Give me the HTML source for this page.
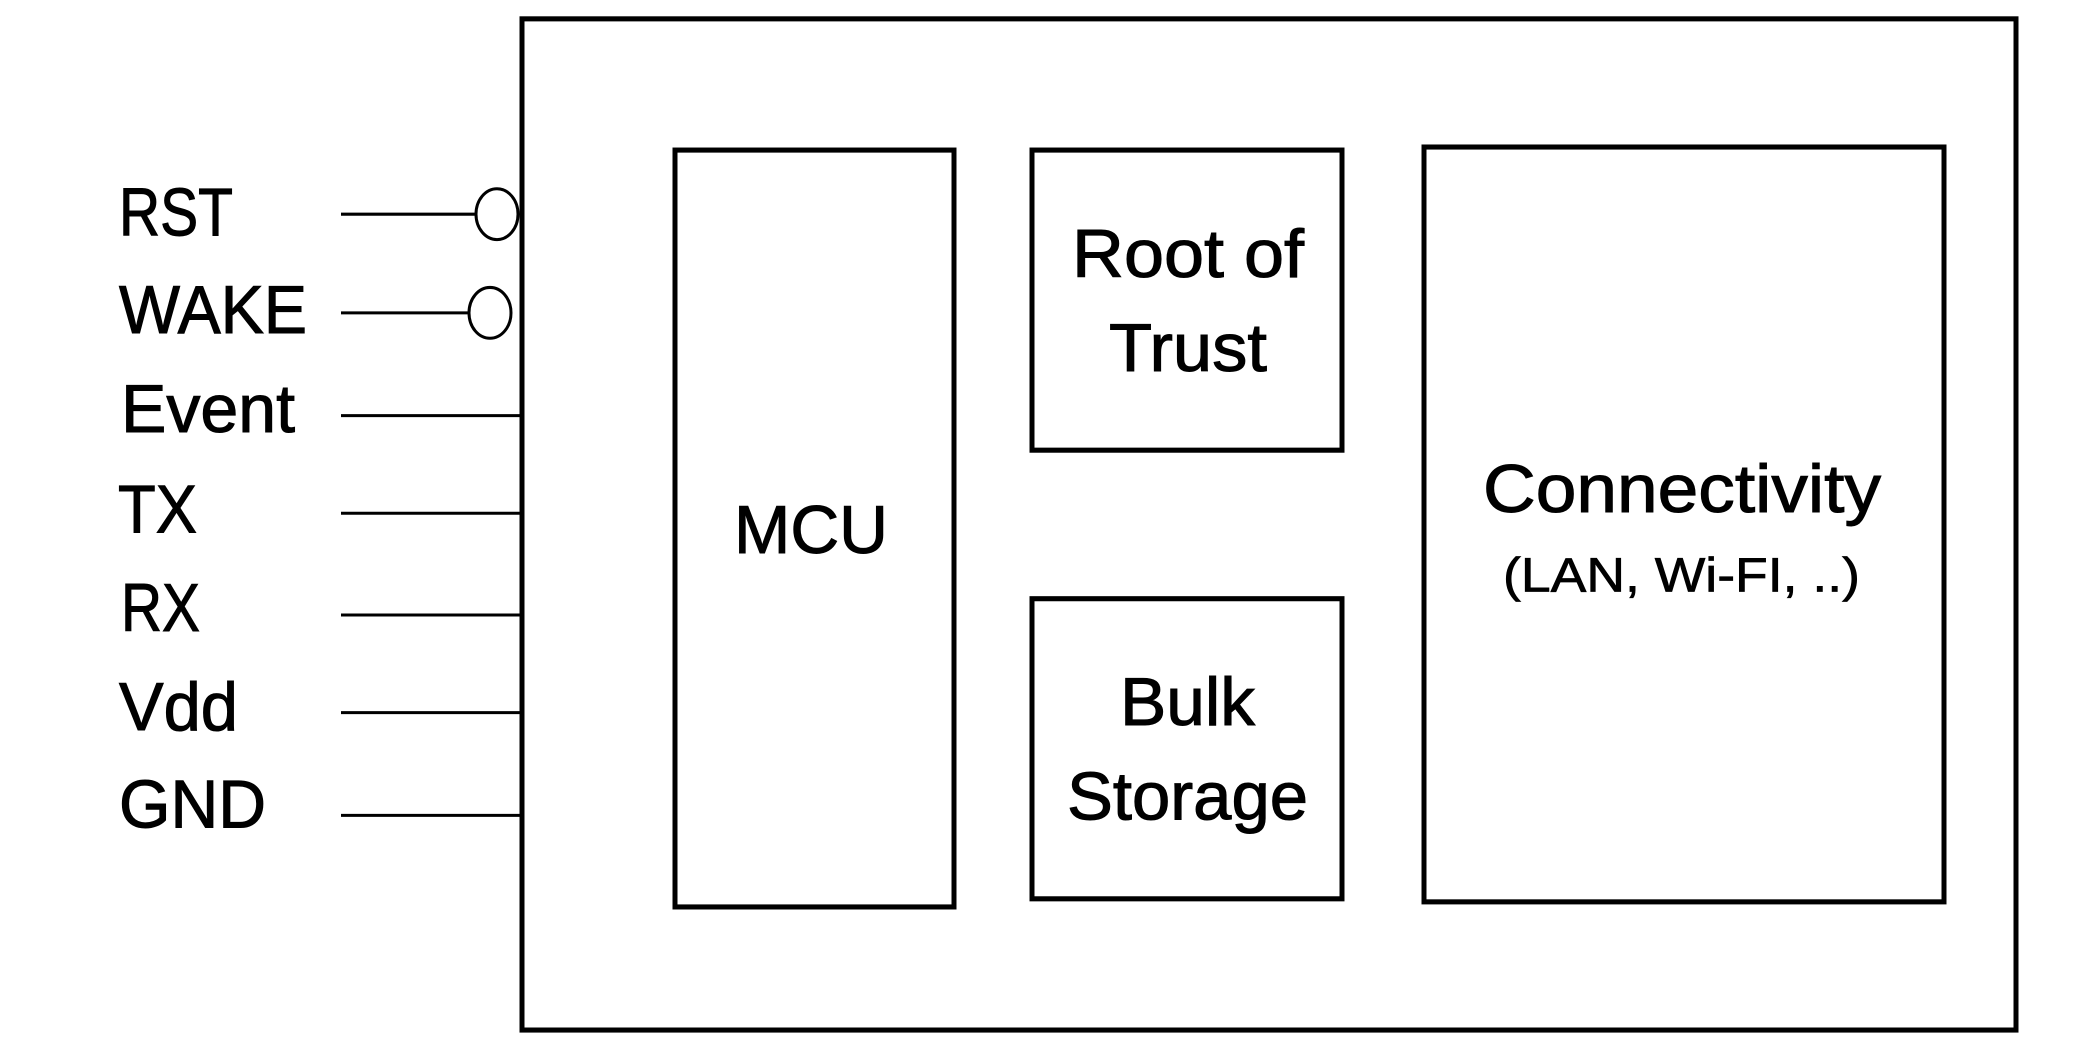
<!DOCTYPE html>
<html><head><meta charset="utf-8"><style>html,body{margin:0;padding:0;background:#fff}svg{display:block}</style></head>
<body>
<svg width="2078" height="1056" viewBox="0 0 2078 1056" xmlns="http://www.w3.org/2000/svg" font-family="Liberation Sans, sans-serif" fill="#000">
<g transform="matrix(1 0 0 1.0173 0 -1.5)">
<g fill="none" stroke="#000" stroke-width="5">
<rect x="522" y="20" width="1494" height="994"/>
<rect x="675" y="149" width="279" height="744"/>
<rect x="1032" y="149" width="310" height="295"/>
<rect x="1032" y="590" width="310" height="295"/>
<rect x="1424" y="146" width="520" height="742"/>
</g>
<g stroke="#000" stroke-width="3">
<line x1="341" y1="212" x2="476" y2="212"/>
<line x1="341" y1="309" x2="469" y2="309"/>
<line x1="341" y1="410" x2="520" y2="410"/>
<line x1="341" y1="506" x2="520" y2="506"/>
<line x1="341" y1="606" x2="520" y2="606"/>
<line x1="341" y1="702" x2="520" y2="702"/>
<line x1="341" y1="803" x2="520" y2="803"/>
</g>
<g fill="#fff" stroke="#000" stroke-width="3">
<ellipse cx="497" cy="212" rx="21" ry="25"/>
<ellipse cx="490" cy="309" rx="21" ry="25"/>
</g>
<g font-size="67" stroke="#000" stroke-width="1">
<text x="119" y="233" textLength="114" lengthAdjust="spacingAndGlyphs">RST</text>
<text x="119" y="329" textLength="188" lengthAdjust="spacingAndGlyphs">WAKE</text>
<text x="121" y="426" textLength="174" lengthAdjust="spacingAndGlyphs">Event</text>
<text x="118" y="525" textLength="79" lengthAdjust="spacingAndGlyphs">TX</text>
<text x="121" y="622" textLength="79" lengthAdjust="spacingAndGlyphs">RX</text>
<text x="119" y="719" textLength="119" lengthAdjust="spacingAndGlyphs">Vdd</text>
<text x="119" y="815" textLength="147" lengthAdjust="spacingAndGlyphs">GND</text>
<text x="734" y="545" textLength="154" lengthAdjust="spacingAndGlyphs">MCU</text>
<text x="1072" y="274" textLength="232" lengthAdjust="spacingAndGlyphs">Root of</text>
<text x="1109" y="366" textLength="158" lengthAdjust="spacingAndGlyphs">Trust</text>
<text x="1120" y="714" textLength="135" lengthAdjust="spacingAndGlyphs">Bulk</text>
<text x="1067" y="807" textLength="241" lengthAdjust="spacingAndGlyphs">Storage</text>
<text x="1483" y="505" textLength="398" lengthAdjust="spacingAndGlyphs">Connectivity</text>
</g>
<text x="1503" y="583" font-size="47" stroke="#000" stroke-width="0.7" textLength="357" lengthAdjust="spacingAndGlyphs">(LAN, Wi-FI, ..)</text>
</g>
</svg>
</body></html>
